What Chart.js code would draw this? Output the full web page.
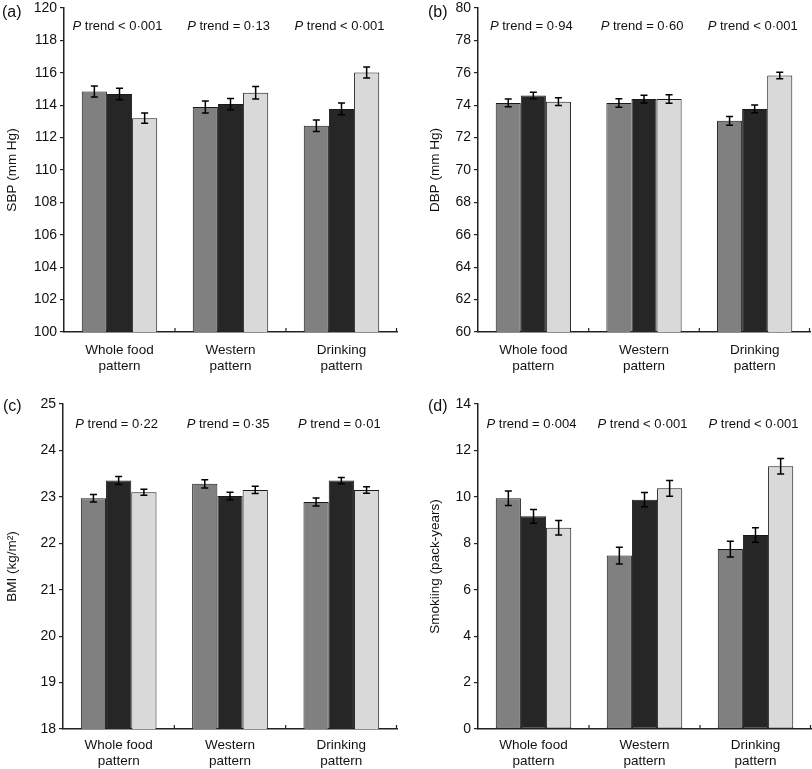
<!DOCTYPE html>
<html>
<head>
<meta charset="utf-8">
<script src="https://cdn.jsdelivr.net/npm/chart.js@4.4.1/dist/chart.umd.min.js"></script>
<style>
  body { margin: 0; background: #fff; }
  #wrap { position: relative; width: 812px; height: 769px; background: #fff; }
  .panel { position: absolute; }
</style>
</head>
<body>
<div id="wrap">
  <div class="panel" style="left:0;top:0"><canvas id="sbp" width="406" height="384"></canvas></div>
  <div class="panel" style="left:406px;top:0"><canvas id="dbp" width="406" height="384"></canvas></div>
  <div class="panel" style="left:0;top:384px"><canvas id="bmi" width="406" height="385"></canvas></div>
  <div class="panel" style="left:406px;top:384px"><canvas id="smk" width="406" height="385"></canvas></div>
</div>
<script>
//=============================================== DATA ========================================
var categories = [["Whole food", "pattern"], ["Western", "pattern"], ["Drinking", "pattern"]];

// (a) SBP
var sbpT1 = [114.85, 113.89, 112.73];
var sbpT2 = [114.69, 114.07, 113.77];
var sbpT3 = [113.20, 114.77, 116.02];
var sbpErr1 = [0.34, 0.37, 0.36];
var sbpErr2 = [0.35, 0.35, 0.36];
var sbpErr3 = [0.32, 0.38, 0.34];
var sbpTrend = ["< 0·001", "= 0·13", "< 0·001"];

// (b) DBP
var dbpT1 = [74.14, 74.14, 73.04];
var dbpT2 = [74.60, 74.38, 73.77];
var dbpT3 = [74.22, 74.38, 75.84];
var dbpErr1 = [0.24, 0.26, 0.27];
var dbpErr2 = [0.20, 0.24, 0.24];
var dbpErr3 = [0.24, 0.26, 0.20];
var dbpTrend = ["= 0·94", "= 0·60", "< 0·001"];

// (c) BMI
var bmiT1 = [22.97, 23.28, 22.89];
var bmiT2 = [23.35, 23.02, 23.35];
var bmiT3 = [23.10, 23.15, 23.15];
var bmiErr1 = [0.08, 0.09, 0.086];
var bmiErr2 = [0.086, 0.08, 0.065];
var bmiErr3 = [0.065, 0.08, 0.07];
var bmiTrend = ["= 0·22", "= 0·35", "= 0·01"];

// (d) Smoking
var smkT1 = [9.94, 7.47, 7.75];
var smkT2 = [9.16, 9.88, 8.36];
var smkT3 = [8.67, 10.37, 11.32];
var smkErr1 = [0.31, 0.36, 0.34];
var smkErr2 = [0.30, 0.31, 0.31];
var smkErr3 = [0.31, 0.34, 0.33];
var smkTrend = ["= 0·004", "< 0·001", "< 0·001"];

var barColors = ["#808080", "#262626", "#d9d9d9"];
var FONT = "'Liberation Sans', Arial, sans-serif";
var INK = "#111";

//=============================================== PLUGINS ========================================
var errorBars = {
    id: "errorBars",
    afterDatasetsDraw: function (chart) {
        var ctx = chart.ctx, y = chart.scales.y;
        ctx.save();
        ctx.strokeStyle = "#000";
        ctx.lineWidth = 1.5;
        chart.data.datasets.forEach(function (ds, i) {
            chart.getDatasetMeta(i).data.forEach(function (bar, j) {
                var v = ds.data[j], e = ds.errors[j];
                var top = y.getPixelForValue(v + e), bot = y.getPixelForValue(v - e);
                ctx.beginPath();
                ctx.moveTo(bar.x, top); ctx.lineTo(bar.x, bot);
                ctx.moveTo(bar.x - 3.5, top); ctx.lineTo(bar.x + 3.5, top);
                ctx.moveTo(bar.x - 3.5, bot); ctx.lineTo(bar.x + 3.5, bot);
                ctx.stroke();
            });
        });
        ctx.restore();
    }
};

var decorations = {
    id: "decorations",
    afterDraw: function (chart) {
        var ctx = chart.ctx, x = chart.scales.x, area = chart.chartArea;
        var opts = chart.options.plugins.decorations;
        ctx.save();
        // inward ticks on x axis at category boundaries
        ctx.strokeStyle = "#222";
        ctx.lineWidth = 1.2;
        for (var j = 1; j <= categories.length; j++) {
            var bx = j < categories.length
                ? (x.getPixelForValue(j - 1) + x.getPixelForValue(j)) / 2
                : area.right - 0.5;
            ctx.beginPath();
            ctx.moveTo(bx, area.bottom);
            ctx.lineTo(bx, area.bottom - 4);
            ctx.stroke();
        }
        // P trend labels
        ctx.fillStyle = INK;
        ctx.textBaseline = "middle";
        ctx.textAlign = "left";
        opts.trend.forEach(function (txt, j) {
            var rest = " trend " + txt;
            ctx.font = "italic 13px " + FONT;
            var wp = ctx.measureText("P").width;
            ctx.font = "13px " + FONT;
            var wr = ctx.measureText(rest).width;
            var cx = x.getPixelForValue(j) - 2;
            var sx = cx - (wp + wr) / 2;
            var ty = area.top + opts.trendOffset;
            ctx.font = "italic 13px " + FONT;
            ctx.fillText("P", sx, ty);
            ctx.font = "13px " + FONT;
            ctx.fillText(rest, sx + wp, ty);
        });
        // panel letter
        ctx.font = "16px " + FONT;
        ctx.fillText(opts.letter, opts.letterX, opts.letterY);
        ctx.restore();
    }
};

//=============================================== PANEL BUILDER ========================================
function makePanel(id, p) {
    var sets = [p.t1, p.t2, p.t3].map(function (vals, i) {
        return {
            data: vals,
            errors: p.errs[i],
            backgroundColor: barColors[i],
            borderColor: "#1a1a1a",
            borderWidth: 1,
            borderSkipped: false,
            categoryPercentage: 0.68,
            barPercentage: 1.0
        };
    });
    return new Chart(document.getElementById(id), {
        type: "bar",
        data: { labels: categories, datasets: sets },
        plugins: [errorBars, decorations],
        options: {
            responsive: false,
            animation: false,
            layout: { padding: { left: 0, top: p.top, right: p.right, bottom: 0 } },
            plugins: {
                legend: { display: false },
                tooltip: { enabled: false },
                decorations: {
                    trend: p.trend, trendOffset: p.trendOffset,
                    letter: p.letter, letterX: p.letterX, letterY: p.letterY
                }
            },
            scales: {
                x: {
                    offset: true,
                    grid: { display: false },
                    border: { color: "#222", width: 1.5 },
                    ticks: { color: INK, font: { family: FONT, size: 13.5 }, padding: p.xPad, maxRotation: 0 },
                    afterFit: function (s) { s.height = p.xHeight; s.paddingLeft = 0; s.paddingRight = 0; }
                },
                y: {
                    min: p.min, max: p.max,
                    ticks: { stepSize: p.step, color: INK, font: { family: FONT, size: 14 }, padding: 3 },
                    grid: { drawOnChartArea: false, tickLength: 4, color: "#222", lineWidth: 1.2 },
                    border: { color: "#222", width: 1.5 },
                    title: {
                        display: true, text: p.title, color: INK,
                        font: { family: FONT, size: 13.5 },
                        padding: { top: p.titlePad, bottom: 0 }
                    },
                    afterFit: function (s) { s.width = p.yWidth; s.paddingTop = 0; s.paddingBottom = 0; }
                }
            }
        }
    });
}

//=============================================== PANELS ========================================
var sbp = makePanel("sbp", {
    t1: sbpT1, t2: sbpT2, t3: sbpT3, errs: [sbpErr1, sbpErr2, sbpErr3], trend: sbpTrend,
    min: 100, max: 120, step: 2, title: "SBP (mm Hg)",
    top: 8, right: 9, yWidth: 64, xHeight: 52, xPad: 2, titlePad: 4, trendOffset: 18,
    letter: "(a)", letterX: 2, letterY: 13
});

var dbp = makePanel("dbp", {
    t1: dbpT1, t2: dbpT2, t3: dbpT3, errs: [dbpErr1, dbpErr2, dbpErr3], trend: dbpTrend,
    min: 60, max: 80, step: 2, title: "DBP (mm Hg)",
    top: 8, right: 2, yWidth: 72, xHeight: 52, xPad: 2, titlePad: 21.5, trendOffset: 18,
    letter: "(b)", letterX: 22, letterY: 13
});

var bmi = makePanel("bmi", {
    t1: bmiT1, t2: bmiT2, t3: bmiT3, errs: [bmiErr1, bmiErr2, bmiErr3], trend: bmiTrend,
    min: 18, max: 25, step: 1, title: "BMI (kg/m²)",
    top: 20, right: 9, yWidth: 63, xHeight: 40, xPad: 0, titlePad: 4.5, trendOffset: 20,
    letter: "(c)", letterX: 3, letterY: 23
});

var smk = makePanel("smk", {
    t1: smkT1, t2: smkT2, t3: smkT3, errs: [smkErr1, smkErr2, smkErr3], trend: smkTrend,
    min: 0, max: 14, step: 2, title: "Smokiing (pack-years)",
    top: 20, right: 1, yWidth: 72, xHeight: 40, xPad: 0, titlePad: 21.5, trendOffset: 20,
    letter: "(d)", letterX: 22, letterY: 23
});
</script>
</body>
</html>
